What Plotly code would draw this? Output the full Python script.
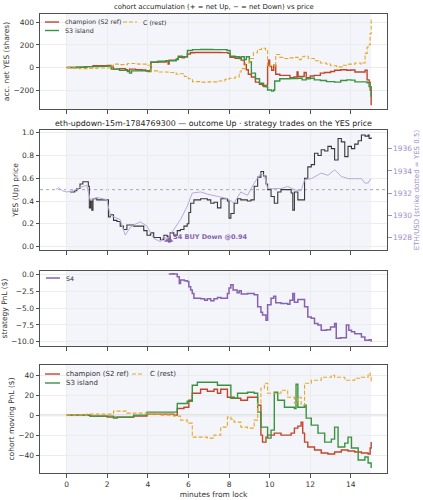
import plotly.graph_objects as go

# ---------------- data ----------------
LOCK_WINDOW = [0, 15]

acc_champ_m = [0, 0.5, 0.9, 1.3, 2.0, 2.2, 2.3, 2.6, 2.9, 3.0, 3.1, 3.4, 3.7, 3.9, 4.1, 4.15, 4.5, 4.9, 5.0, 5.05, 5.4, 5.5, 5.7, 5.8, 5.95, 6.1, 6.3, 7.0, 7.6, 7.95, 8.05, 8.3, 8.5, 8.6, 8.75, 8.85, 8.95, 9.1, 9.3, 9.5, 9.65, 9.8, 9.88, 9.9, 9.95, 10.0, 10.1, 10.2, 10.3, 10.5, 10.9, 11.0, 11.2, 11.35, 11.4, 11.6, 11.7, 11.8, 12.0, 12.2, 12.5, 12.7, 13.0, 13.2, 13.5, 13.8, 14.0, 14.2, 14.6, 14.7, 14.8, 14.9, 14.95, 15.0]
acc_champ_v = [0, 3, 8, 15, 18, 5, -15, -10, -20, -35, -15, -20, -22, -30, -25, 45, 48, 60, 30, 65, 70, 90, 85, 95, 120, 130, 133, 133, 132, 125, 90, 82, 88, 65, 25, -20, -60, -85, -130, -150, -160, -170, -150, 20, 65, 10, -25, 20, -60, -70, -70, -90, -85, -40, -80, -80, -45, -90, -75, -70, -50, -45, -35, -25, -20, -25, -22, -40, -40, -25, -110, -130, -200, -335]

acc_s3_m = [0, 0.5, 1.0, 1.6, 2.0, 2.2, 2.6, 3.0, 3.1, 3.2, 3.6, 4.0, 4.15, 4.5, 4.9, 5.4, 5.5, 5.7, 5.95, 6.2, 6.6, 7.2, 7.9, 8.05, 8.3, 8.5, 8.6, 8.75, 8.85, 9.0, 9.1, 9.3, 9.5, 9.7, 9.9, 10.1, 10.2, 10.25, 10.5, 11.0, 11.4, 11.6, 11.8, 12.0, 12.2, 12.5, 12.8, 13.2, 13.5, 13.8, 14.0, 14.2, 14.5, 14.8, 14.9, 15.0]
acc_s3_v = [0, 2, 8, 10, 12, -15, -25, -30, -50, -30, -30, -35, 50, 55, 60, 75, 100, 95, 150, 158, 160, 158, 150, 100, 95, 80, 95, 70, 95, 50, -50, -100, -140, -170, -200, -210, -200, -120, -100, -98, -95, -110, -100, -95, -110, -115, -125, -130, -115, -110, -112, -128, -128, -135, -170, -260]

acc_c_m = [0, 0.3, 0.6, 1.0, 1.5, 2.0, 2.2, 2.3, 2.6, 3.0, 3.5, 4.0, 4.15, 4.5, 5.0, 5.4, 5.6, 5.8, 6.0, 6.2, 6.6, 7.0, 7.4, 7.8, 8.0, 8.3, 8.5, 8.6, 8.8, 9.0, 9.2, 9.4, 9.6, 9.8, 9.9, 10.0, 10.25, 10.3, 10.5, 10.7, 10.9, 11.2, 11.4, 11.55, 11.7, 11.9, 12.2, 12.5, 12.8, 13.0, 13.3, 13.6, 13.9, 14.2, 14.5, 14.6, 14.7, 14.8, 14.9, 14.95, 15.0]
acc_c_v = [0, -5, -10, -8, -5, -5, 15, 30, 25, 35, 30, 20, -30, -40, -45, -60, -55, -80, -100, -125, -130, -128, -120, -105, -95, -85, -40, -10, 40, 80, 130, 160, 170, 150, 5, 20, 0, 115, 90, 80, 85, 90, 70, 95, 100, 80, 60, 40, 30, 15, 5, 20, 30, 40, 30, 40, 125, 180, 200, 300, 430]

yes_m = [0.17, 0.4, 0.5, 0.66, 0.8, 0.99, 1.07, 1.12, 1.18, 1.24, 1.3, 1.49, 1.98, 2.06, 2.15, 2.31, 2.48, 2.64, 2.8, 2.97, 3.3, 3.63, 3.8, 3.96, 4.13, 4.29, 4.46, 4.62, 4.79, 4.95, 5.03, 5.1, 5.28, 5.45, 5.61, 5.78, 5.94, 6.02, 6.11, 6.27, 6.6, 6.93, 7.1, 7.26, 7.43, 7.6, 7.92, 8.0, 8.09, 8.25, 8.42, 8.58, 8.9, 9.08, 9.24, 9.41, 9.57, 9.7, 9.82, 9.9, 10.07, 10.23, 10.4, 10.56, 10.9, 11.06, 11.14, 11.22, 11.39, 11.63, 11.72, 11.88, 12.05, 12.21, 12.38, 12.54, 12.71, 12.87, 13.04, 13.2, 13.37, 13.53, 13.7, 13.86, 14.03, 14.19, 14.36, 14.52, 14.7, 14.85, 14.9, 15.0]
yes_v = [0.48, 0.49, 0.51, 0.55, 0.57, 0.57, 0.53, 0.34, 0.40, 0.32, 0.42, 0.41, 0.41, 0.26, 0.28, 0.23, 0.22, 0.18, 0.15, 0.19, 0.18, 0.18, 0.14, 0.10, 0.12, 0.08, 0.08, 0.06, 0.10, 0.09, 0.04, 0.12, 0.10, 0.14, 0.15, 0.18, 0.20, 0.30, 0.38, 0.41, 0.42, 0.41, 0.38, 0.39, 0.34, 0.42, 0.40, 0.25, 0.29, 0.38, 0.42, 0.41, 0.40, 0.41, 0.53, 0.61, 0.66, 0.62, 0.55, 0.50, 0.44, 0.38, 0.48, 0.50, 0.50, 0.47, 0.32, 0.48, 0.41, 0.41, 0.60, 0.70, 0.72, 0.82, 0.80, 0.85, 0.84, 0.88, 0.86, 0.76, 0.95, 0.92, 0.79, 0.88, 0.86, 0.90, 0.93, 0.98, 0.97, 0.98, 0.95, 0.96]

eth_m = [-0.53, -0.4, -0.2, 0.0, 0.33, 0.66, 0.99, 1.1, 1.16, 1.49, 1.98, 2.15, 2.4, 2.64, 2.89, 3.14, 3.4, 3.63, 3.96, 4.29, 4.62, 4.79, 4.95, 5.28, 5.61, 5.94, 6.19, 6.6, 6.93, 7.43, 7.92, 8.25, 8.58, 8.91, 9.24, 9.57, 9.74, 9.9, 10.23, 10.56, 10.89, 11.22, 11.55, 11.72, 12.05, 12.54, 12.87, 13.2, 13.53, 13.86, 14.19, 14.52, 14.69, 14.85, 14.98]
eth_v = [1932.3, 1932.5, 1932.2, 1932.1, 1932.2, 1932.5, 1932.7, 1931.8, 1931.4, 1931.6, 1931.4, 1930.0, 1929.8, 1929.6, 1928.2, 1928.9, 1929.2, 1929.4, 1929.0, 1927.9, 1927.6, 1928.1, 1927.8, 1928.7, 1929.6, 1930.8, 1932.0, 1932.1, 1931.9, 1931.7, 1931.5, 1931.1, 1932.1, 1931.8, 1932.9, 1933.8, 1933.6, 1932.4, 1932.4, 1932.4, 1932.6, 1932.3, 1932.2, 1933.2, 1933.3, 1933.8, 1933.6, 1934.1, 1933.5, 1933.3, 1933.3, 1933.3, 1932.9, 1932.9, 1933.3]
strike_yes = 0.5

trade_m = [5.03]
trade_down_price = [0.94]
trade_label = ["S4 BUY Down @0.94"]

s4_m = [5.03, 5.2, 5.28, 5.45, 5.55, 5.61, 5.8, 5.94, 6.02, 6.11, 6.19, 6.27, 6.6, 6.8, 6.93, 7.1, 7.26, 7.43, 7.6, 7.92, 8.0, 8.09, 8.2, 8.4, 8.5, 8.6, 8.91, 9.24, 9.41, 9.57, 9.65, 9.82, 9.9, 10.07, 10.2, 10.3, 10.56, 10.89, 11.0, 11.14, 11.22, 11.39, 11.6, 11.72, 11.88, 12.05, 12.21, 12.38, 12.54, 12.8, 13.0, 13.2, 13.28, 13.5, 13.78, 13.9, 14.03, 14.19, 14.52, 14.69, 14.9, 15.0]
s4_v = [0.1, 0.15, 0.1, -0.3, -1.3, -0.8, -0.9, -1.0, -1.8, -2.3, -2.8, -3.5, -3.6, -3.8, -3.6, -3.9, -3.6, -3.4, -3.5, -2.8, -2.0, -1.5, -2.3, -2.7, -2.4, -2.9, -2.8, -3.0, -4.8, -5.6, -6.0, -6.8, -4.5, -3.5, -3.2, -4.2, -4.3, -4.4, -3.8, -2.8, -4.1, -3.7, -3.7, -4.8, -6.3, -6.5, -7.3, -7.5, -8.3, -8.2, -7.8, -7.3, -9.5, -9.4, -7.5, -8.3, -8.5, -8.8, -9.3, -9.8, -9.7, -10.0]

pnl_champ_m = [0, 1.16, 2.0, 2.48, 3.3, 3.96, 4.95, 5.28, 5.45, 5.78, 6.02, 6.19, 6.6, 6.93, 7.26, 7.43, 7.59, 7.92, 8.25, 8.58, 8.91, 9.24, 9.41, 9.57, 9.65, 9.82, 9.9, 10.23, 10.56, 10.89, 11.06, 11.22, 11.39, 11.55, 11.63, 11.72, 11.88, 12.21, 12.54, 12.87, 13.2, 13.53, 13.86, 14.19, 14.52, 14.85, 14.95, 15.0]
pnl_champ_v = [0, -1, -2, -2, -1, 1, 1, 0, 6.7, 8, 15, 22, 26, 24, 26, 22, 26, 18, 17, 15, 18, 18, 10, -20, -27, -22, -20, -18, -20, -20, -18, -13, -11, -7, -18, -27, -32, -35, -38, -39, -37, -35, -36, -37, -38, -39, -33, -27]

pnl_s3_m = [0, 1.16, 2.31, 2.5, 3.3, 3.96, 4.95, 5.28, 5.45, 5.94, 6.19, 6.44, 7.26, 7.43, 7.92, 8.09, 8.42, 8.91, 9.24, 9.41, 9.57, 9.9, 10.07, 10.23, 10.4, 10.56, 10.73, 11.22, 11.3, 11.39, 11.72, 11.8, 12.05, 12.38, 12.71, 13.04, 13.2, 13.37, 13.7, 13.86, 14.03, 14.36, 14.69, 14.85, 15.0]
pnl_s3_v = [0, -1, -3, -2, 0, 3, 3, 3, 11.7, 14, 30, 33, 33, 30, 30, 17, 22, 23, 22, 3, -12, -23, -15, 23, 15, 15, 8, 6.7, 31, 8, 10, -3, -10, -18, -27, -24, -12, -32, -28, -22, -33, -45, -42, -48, -53]

pnl_c_m = [0, 1.0, 1.65, 2.31, 2.97, 3.96, 4.62, 5.28, 5.61, 5.94, 6.19, 6.6, 6.93, 7.26, 7.59, 7.92, 8.09, 8.25, 8.58, 8.91, 9.24, 9.41, 9.57, 9.74, 9.9, 10.23, 10.56, 10.89, 11.22, 11.39, 11.55, 11.72, 12.05, 12.54, 13.04, 13.2, 13.7, 14.19, 14.52, 14.85, 14.95, 15.0]
pnl_c_v = [0, 1, 1, 4, 2, 1, 0, -1, -5, -8, -22, -22, -23, -20, -12, -2, -4, -7, -12, -13, -5, 12, 27, 32, 22, 22, 25, 18, 12, 18, 10, 32, 35, 38, 40, 38, 35, 37, 38, 42, 38, 33]

# ---------------- styling ----------------
W, H = 423, 500
C_CHAMP = "#c0472a"
C_S3 = "#3a943f"
C_REST = "#e4a82a"
C_S4 = "#8662b0"
C_ETH = "#b9a9d9"
C_YES = "#383838"
FONT = "DejaVu Sans"
DASH = "4px,2px"

XD = [40 / W, 387 / W]
def yd(top, bot):
    return [1 - bot / H, 1 - top / H]

fig = go.Figure()

# panel 1
fig.add_trace(go.Scatter(x=acc_champ_m, y=acc_champ_v, mode="lines", line=dict(color=C_CHAMP, width=1.4, shape="hv"),
                         name="champion (S2 ref)", xaxis="x", yaxis="y", showlegend=False))
fig.add_trace(go.Scatter(x=acc_s3_m, y=acc_s3_v, mode="lines", line=dict(color=C_S3, width=1.4, shape="hv"),
                         name="S3 island", xaxis="x", yaxis="y", showlegend=False))
fig.add_trace(go.Scatter(x=acc_c_m, y=acc_c_v, mode="lines", line=dict(color=C_REST, width=1.1, shape="hv", dash=DASH),
                         name="C (rest)", xaxis="x", yaxis="y", showlegend=False))
# panel 2
fig.add_trace(go.Scatter(x=eth_m, y=eth_v, mode="lines", line=dict(color=C_ETH, width=1.0),
                         showlegend=False, xaxis="x2", yaxis="y5"))
fig.add_trace(go.Scatter(x=yes_m, y=yes_v, mode="lines", line=dict(color=C_YES, width=1.1, shape="hv"),
                         showlegend=False, xaxis="x2", yaxis="y2"))
fig.add_trace(go.Scatter(x=trade_m, y=[1 - p for p in trade_down_price], mode="markers",
                         marker=dict(symbol="triangle-up", size=8, color=C_S4),
                         showlegend=False, xaxis="x2", yaxis="y2"))
for m, p, lab in zip(trade_m, trade_down_price, trade_label):
    fig.add_annotation(x=m, y=1 - p, xref="x2", yref="y2", text="<b>" + lab + "</b>", showarrow=False,
                       xanchor="left", yanchor="bottom", xshift=2, yshift=-3,
                       font=dict(family=FONT, size=6.5, color=C_S4))
# panel 3
fig.add_trace(go.Scatter(x=s4_m, y=s4_v, mode="lines", line=dict(color=C_S4, width=1.5, shape="hv"),
                         name="S4", xaxis="x3", yaxis="y3", showlegend=False))
# panel 4
fig.add_trace(go.Scatter(x=pnl_champ_m, y=pnl_champ_v, mode="lines", line=dict(color=C_CHAMP, width=1.4, shape="hv"),
                         name="champion (S2 ref)", xaxis="x4", yaxis="y4", showlegend=False))
fig.add_trace(go.Scatter(x=pnl_s3_m, y=pnl_s3_v, mode="lines", line=dict(color=C_S3, width=1.4, shape="hv"),
                         name="S3 island", xaxis="x4", yaxis="y4", showlegend=False))
fig.add_trace(go.Scatter(x=pnl_c_m, y=pnl_c_v, mode="lines", line=dict(color=C_REST, width=1.1, shape="hv", dash=DASH),
                         name="C (rest)", xaxis="x4", yaxis="y4", showlegend=False))

# shaded lock window + reference lines
for xa, ya in [("x", "y"), ("x2", "y2"), ("x3", "y3"), ("x4", "y4")]:
    fig.add_shape(type="rect", xref=xa, yref=ya + " domain", x0=LOCK_WINDOW[0], x1=LOCK_WINDOW[1], y0=0, y1=1,
                  fillcolor="#f4f5fa", line_width=0, layer="below")
fig.add_shape(type="line", xref="x domain", yref="y", x0=0, x1=1, y0=0, y1=0, line=dict(color="#d4d4d4", width=1), layer="below")
fig.add_shape(type="line", xref="x4 domain", yref="y4", x0=0, x1=1, y0=0, y1=0, line=dict(color="#dcdcdc", width=2), layer="below")
fig.add_shape(type="line", xref="x2 domain", yref="y2", x0=0, x1=1, y0=strike_yes, y1=strike_yes,
              line=dict(color="#a8a8a8", width=1, dash="dot"), layer="below")

# compact matplotlib-style legends (key line + label), positioned in pixels
def legend_entry(xpx, ypx, label, color, dash, size, keylen=14, lw=1.4):
    fig.add_shape(type="line", xref="paper", yref="paper", x0=xpx / W, x1=(xpx + keylen) / W,
                  y0=1 - ypx / H, y1=1 - ypx / H, line=dict(color=color, width=lw, dash=dash))
    fig.add_annotation(x=(xpx + keylen + 3.5) / W, y=1 - ypx / H, xref="paper", yref="paper", text=label,
                       showarrow=False, xanchor="left", yanchor="middle",
                       font=dict(family=FONT, size=size, color="#333"))

legend_entry(45, 22, "champion (S2 ref)", C_CHAMP, "solid", 6.3)
legend_entry(45, 30.5, "S3 island", C_S3, "solid", 6.3)
legend_entry(123, 22, "C (rest)", C_REST, DASH, 6.3, lw=1.1)
legend_entry(46, 278, "S4", C_S4, "solid", 6.3, lw=1.5)
legend_entry(45, 374, "champion (S2 ref)", C_CHAMP, "solid", 7, keylen=15)
legend_entry(45, 383, "S3 island", C_S3, "solid", 7, keylen=15)
legend_entry(132, 374, "C (rest)", C_REST, DASH, 7, keylen=12, lw=1.1)

XR = [-1.31, 15.78]
ax_common = dict(showline=True, mirror=True, linecolor="#505050", linewidth=1, ticks="outside", ticklen=3.5,
                 tickcolor="#505050", gridcolor="#ececec", gridwidth=0.8, zeroline=False,
                 tickfont=dict(family=FONT, size=7.5, color="#333"), automargin=False)
tfont = dict(family=FONT, size=7.5, color="#333")

lay = dict(
    width=W, height=H, margin=dict(l=0, r=0, t=0, b=0), paper_bgcolor="white", plot_bgcolor="white",
    font=dict(family=FONT, color="#333"), showlegend=False,
    xaxis=dict(domain=XD, anchor="y", range=XR, tickvals=list(range(0, 15, 2)), showticklabels=False, **ax_common),
    xaxis2=dict(domain=XD, anchor="y2", range=XR, tickvals=list(range(0, 15, 2)), showticklabels=False, **ax_common),
    xaxis3=dict(domain=XD, anchor="y3", range=XR, tickvals=list(range(0, 15, 2)), showticklabels=False, **ax_common),
    xaxis4=dict(domain=XD, anchor="y4", range=XR, tickvals=list(range(0, 15, 2)),
                title=dict(text="minutes from lock", font=tfont, standoff=4), **ax_common),
    yaxis=dict(domain=yd(14, 109), anchor="x", range=[-368, 474], tickvals=[-200, 0, 200, 400],
               title=dict(text="acc. net YES (shares)", font=tfont, standoff=2), **ax_common),
    yaxis2=dict(domain=yd(130, 250), anchor="x2", range=[-0.03, 1.024], tickvals=[0, 0.2, 0.4, 0.6, 0.8, 1.0],
                tickformat=".1f", title=dict(text="YES (Up) price", font=tfont, standoff=2), **ax_common),
    yaxis3=dict(domain=yd(271, 346), anchor="x3", range=[-10.64, 0.55], tickvals=[0, -2.5, -5, -7.5, -10],
                tickformat=".1f", title=dict(text="strategy PnL ($)", font=tfont, standoff=2), **ax_common),
    yaxis4=dict(domain=yd(365, 473), anchor="x4", range=[-58, 50.3], tickvals=[-40, -20, 0, 20, 40],
                title=dict(text="cohort moving PnL ($)", font=tfont, standoff=2), **ax_common),
    yaxis5=dict(overlaying="y2", anchor="x2", side="right", range=[1926.85, 1937.7], tickvals=[1928, 1930, 1932, 1934, 1936],
                showgrid=False, zeroline=False, ticks="outside", ticklen=3.5, tickcolor="#a08cc8", automargin=False,
                tickfont=dict(family=FONT, size=7.5, color="#a08cc8"),
                title=dict(text="ETH/USD (strike dotted = YES 0.5)", font=dict(family=FONT, size=7, color="#a08cc8"), standoff=2)),
)
fig.update_layout(**lay)

fig.add_annotation(x=213.5 / W, y=1 - 7 / H, xref="paper", yref="paper", showarrow=False,
                   text="cohort accumulation (+ = net Up, − = net Down) vs price",
                   font=dict(family=FONT, size=6.9, color="#222"), xanchor="center", yanchor="middle")
fig.add_annotation(x=213.5 / W, y=1 - 123 / H, xref="paper", yref="paper", showarrow=False,
                   text="eth-updown-15m-1784769300 — outcome Up · strategy trades on the YES price",
                   font=dict(family=FONT, size=7.9, color="#222"), xanchor="center", yanchor="middle")

fig.write_html("out.html")
